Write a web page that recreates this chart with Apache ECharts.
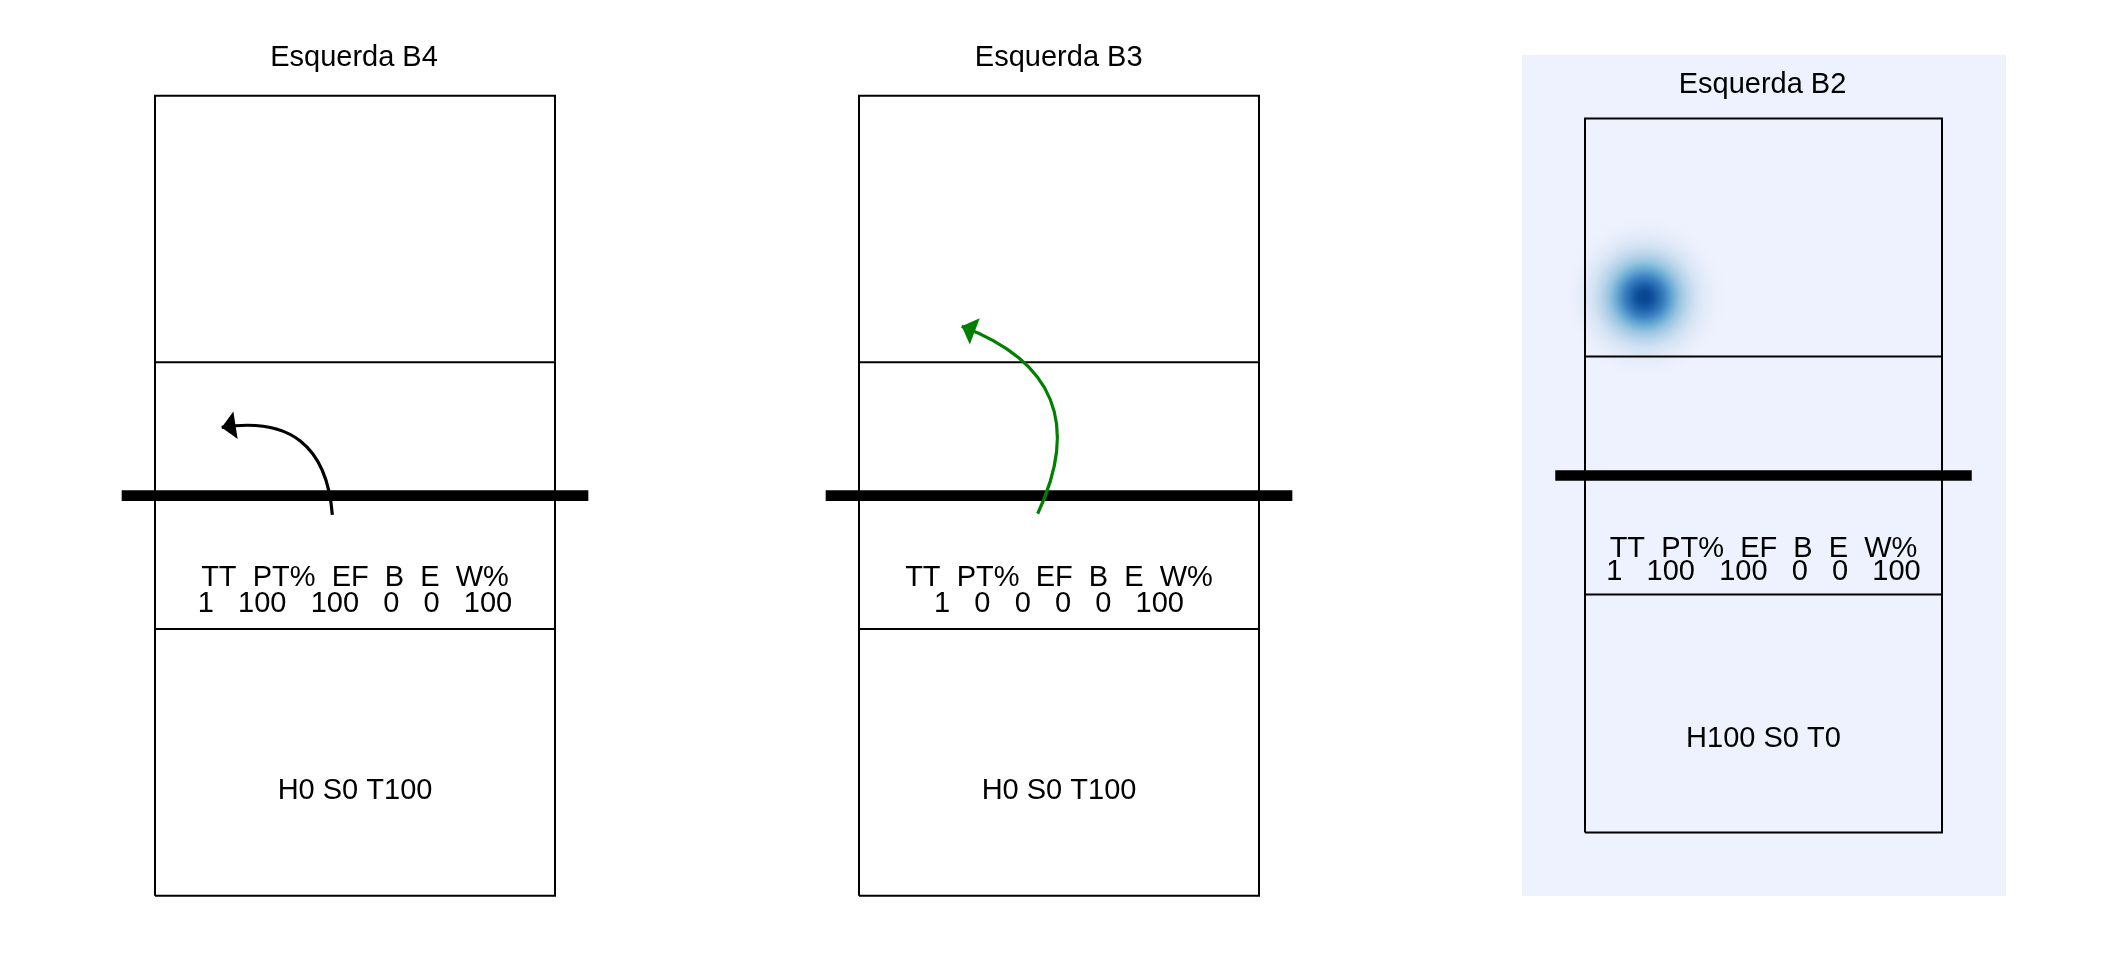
<!DOCTYPE html>
<html>
<head>
<meta charset="utf-8">
<script src="https://cdn.jsdelivr.net/npm/echarts@6/dist/echarts.min.js"></script>
<style>
html, body { margin: 0; padding: 0; background: #ffffff; }
#chart { width: 2112px; height: 960px; }
</style>
</head>
<body>
<div id="chart"></div>
<script>
// ---------- data ----------
const panelTitles = ['Esquerda B4', 'Esquerda B3', 'Esquerda B2'];
const statHeaders = ['TT', 'PT%', 'EF', 'B', 'E', 'W%'];
const statValues = [
  [1, 100, 100, 0, 0, 100],
  [1, 0, 0, 0, 0, 100],
  [1, 100, 100, 0, 0, 100]
];
const zoneLabels = ['H0 S0 T100', 'H0 S0 T100', 'H100 S0 T0'];
// attack trajectories in court units (x 0.5-3.5, y 0.5-6.5, net at 3.5)
const attackStart = [[1.83, 3.357], [1.84, 3.365], null];
const attackEnd = [[1.0, 4.012], [1.27, 4.77], null];
const attackColors = ['#000000', '#008000', null];
// attack landing points used for density panel
const heatPoints = [[], [], [[1.0, 5.0]]];
// court geometry (court units)
const courtOutline = [[0.5, 0.5], [3.5, 0.5], [3.5, 6.5], [0.5, 6.5], [0.5, 0.5]];
const attackLinesY = [2.5, 4.5];
const courtX = [0.5, 3.5];
const netY = 3.5;
const netX = [0.25, 3.75];

// ---------- layout / style ----------
const FONT = '"Liberation Sans", Arial, sans-serif';
const FS = 29;
const grids = [
  { left: 121.67, top: 95.7, width: 466.67, height: 800 },
  { left: 825.67, top: 95.7, width: 466.67, height: 800 },
  { left: 1555.25, top: 118.5, width: 416.5, height: 714 }
];
const titlePos = [[354, 57.8], [1058.7, 57.8], [1762.5, 85]];
const textY = { header: 2.886, values: 2.688, zones: 1.286 };

const option = {
  animation: false,
  backgroundColor: '#ffffff',
  grid: grids.map(g => Object.assign({ show: false }, g)).concat([
    { left: 1522, top: 55, width: 484, height: 841, show: true,
      backgroundColor: '#EEF2FE', borderWidth: 0 }
  ]),
  xAxis: grids.map((g, i) => ({ type: 'value', gridIndex: i, min: netX[0], max: netX[1], show: false })),
  yAxis: grids.map((g, i) => ({ type: 'value', gridIndex: i, min: 0.5, max: 6.5, show: false })),
  graphic: panelTitles.map((t, i) => ({
    type: 'text', x: titlePos[i][0], y: titlePos[i][1], silent: true,
    style: { text: t, font: FS + 'px ' + FONT, fill: '#000',
      align: 'center', verticalAlign: 'middle', textAlign: 'center', textVerticalAlign: 'middle' }
  })),
  series: []
};

const arrowHead = 'path://M0,-15L0,-15M0,0L8,15L-8,15Z';

panelTitles.forEach((t, i) => {
  // density blob
  if (heatPoints[i].length) {
    option.series.push({
      type: 'scatter', xAxisIndex: i, yAxisIndex: i, clip: false, silent: true, z: 1,
      symbol: 'circle', symbolSize: 172,
      itemStyle: {
        opacity: 1,
        color: { type: 'radial', x: 0.5, y: 0.5, r: 0.5, colorStops: [
          { offset: 0, color: '#08458F' },
          { offset: 0.07, color: '#0A4A97' },
          { offset: 0.14, color: '#1A5FA8' },
          { offset: 0.23, color: '#3A80C1' },
          { offset: 0.32, color: '#65A8D4' },
          { offset: 0.41, color: '#98C5E0' },
          { offset: 0.5, color: '#BAD5EB' },
          { offset: 0.6, color: '#D3E3F3' },
          { offset: 0.7, color: '#E1EAF8' },
          { offset: 0.83, color: 'rgba(232,238,251,0.6)' },
          { offset: 1, color: 'rgba(238,242,254,0)' }
        ] }
      },
      data: heatPoints[i]
    });
  }
  // court outline + attack lines
  option.series.push({
    type: 'lines', coordinateSystem: 'cartesian2d', xAxisIndex: i, yAxisIndex: i,
    polyline: true, clip: false, silent: true, z: 2,
    lineStyle: { color: '#000', width: 2, opacity: 1 },
    data: [{ coords: courtOutline }].concat(attackLinesY.map(y => ({ coords: [[courtX[0], y], [courtX[1], y]] })))
  });
  // net
  option.series.push({
    type: 'lines', coordinateSystem: 'cartesian2d', xAxisIndex: i, yAxisIndex: i,
    polyline: true, clip: false, silent: true, z: 3,
    lineStyle: { color: '#000', width: 10.7, opacity: 1, cap: 'butt' },
    data: [{ coords: [[netX[0], netY], [netX[1], netY]] }]
  });
  // attack arrow
  if (attackStart[i]) {
    option.series.push({
      type: 'lines', coordinateSystem: 'cartesian2d', xAxisIndex: i, yAxisIndex: i,
      clip: false, silent: true, z: 4,
      symbol: ['none', arrowHead], symbolSize: [15, 28],
      lineStyle: { color: attackColors[i], width: 3.2, opacity: 1, curveness: -0.54 },
      data: [{ coords: [attackStart[i], attackEnd[i]] }]
    });
  }
  // text labels
  option.series.push({
    type: 'scatter', xAxisIndex: i, yAxisIndex: i, clip: false, silent: true, z: 5,
    symbol: 'circle', symbolSize: 1, itemStyle: { color: 'rgba(0,0,0,0)', opacity: 1 },
    label: {
      show: true, position: 'inside', formatter: '{b}', color: '#000', opacity: 1,
      fontFamily: FONT, fontSize: FS, align: 'center', verticalAlign: 'middle'
    },
    data: [
      { name: statHeaders.join('  '), value: [2, textY.header] },
      { name: statValues[i].join('   '), value: [2, textY.values] },
      { name: zoneLabels[i], value: [2, textY.zones] }
    ]
  });
});

const chart = echarts.init(document.getElementById('chart'), null, { renderer: 'canvas' });
chart.setOption(option);
</script>
</body>
</html>
